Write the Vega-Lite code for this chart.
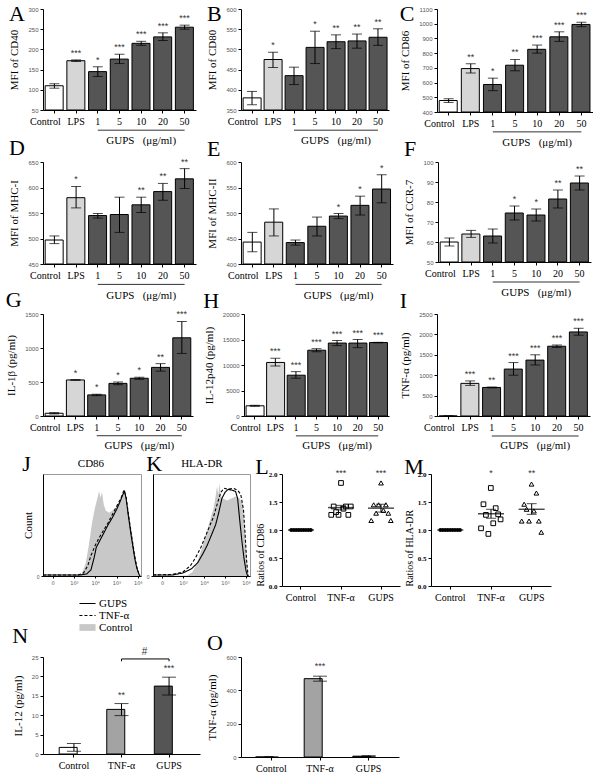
{
"$schema":"https://vega.github.io/schema/vega-lite/v6.json",
"padding":{"left":5,"top":3,"right":0,"bottom":0},
"background":"#ffffff",
"config":{
 "font":"Liberation Serif",
 "view":{"stroke":null},
 "title":{"anchor":"start","frame":"bounds","fontSize":22,"font":"Liberation Serif","fontWeight":"normal","offset":0,"color":"#000"},
 "axis":{"grid":false,"domainColor":"#000","domainWidth":1,"tickColor":"#000","tickSize":3,"labelFont":"Liberation Sans","labelFontSize":6,"labelColor":"#555","labelPadding":2,"labelOverlap":false,"labelFlush":false,"titleFont":"Liberation Serif","titleFontSize":11,"titleFontWeight":"normal","titleColor":"#000","titlePadding":8},
 "axisBand":{"labelFont":"Liberation Serif","labelFontSize":10,"labelColor":"#000","labelAngle":0,"labelPadding":3,"labelOverlap":false}
},
"datasets":{
 "A":[{"g":"Control","k":"c","v":110,"lo":104,"hi":115,"s":""},{"g":"LPS","k":"l","v":172,"lo":170,"hi":174,"s":"***"},{"g":"1","k":"g","v":145,"lo":133,"hi":157,"s":"*"},{"g":"5","k":"g","v":176,"lo":165,"hi":188,"s":"***"},{"g":"10","k":"g","v":215,"lo":210,"hi":220,"s":"***"},{"g":"20","k":"g","v":231,"lo":222,"hi":241,"s":"***"},{"g":"50","k":"g","v":255,"lo":250,"hi":260,"s":"***"}],
 "B":[{"g":"Control","k":"c","v":380,"lo":363,"hi":396,"s":""},{"g":"LPS","k":"l","v":475,"lo":455,"hi":493,"s":"*"},{"g":"1","k":"g","v":435,"lo":413,"hi":456,"s":""},{"g":"5","k":"g","v":505,"lo":465,"hi":545,"s":"*"},{"g":"10","k":"g","v":519,"lo":502,"hi":536,"s":"**"},{"g":"20","k":"g","v":521,"lo":503,"hi":538,"s":"**"},{"g":"50","k":"g","v":530,"lo":510,"hi":551,"s":"**"}],
 "C":[{"g":"Control","k":"c","v":478,"lo":465,"hi":490,"s":""},{"g":"LPS","k":"l","v":695,"lo":665,"hi":728,"s":"**"},{"g":"1","k":"g","v":587,"lo":545,"hi":630,"s":"*"},{"g":"5","k":"g","v":718,"lo":680,"hi":757,"s":"**"},{"g":"10","k":"g","v":826,"lo":800,"hi":855,"s":"***"},{"g":"20","k":"g","v":911,"lo":880,"hi":945,"s":"***"},{"g":"50","k":"g","v":995,"lo":980,"hi":1010,"s":"***"}],
 "D":[{"g":"Control","k":"c","v":497,"lo":490,"hi":505,"s":""},{"g":"LPS","k":"l","v":580,"lo":560,"hi":602,"s":"*"},{"g":"1","k":"g","v":545,"lo":540,"hi":549,"s":""},{"g":"5","k":"g","v":547,"lo":512,"hi":581,"s":""},{"g":"10","k":"g","v":566,"lo":551,"hi":581,"s":"**"},{"g":"20","k":"g","v":592,"lo":575,"hi":608,"s":"**"},{"g":"50","k":"g","v":617,"lo":598,"hi":637,"s":"**"}],
 "E":[{"g":"Control","k":"c","v":443,"lo":424,"hi":462,"s":""},{"g":"LPS","k":"l","v":482,"lo":455,"hi":508,"s":""},{"g":"1","k":"g","v":442,"lo":437,"hi":447,"s":""},{"g":"5","k":"g","v":474,"lo":455,"hi":492,"s":""},{"g":"10","k":"g","v":494,"lo":489,"hi":499,"s":"*"},{"g":"20","k":"g","v":515,"lo":496,"hi":533,"s":"*"},{"g":"50","k":"g","v":547,"lo":520,"hi":575,"s":"*"}],
 "F":[{"g":"Control","k":"c","v":60,"lo":58,"hi":62,"s":""},{"g":"LPS","k":"l","v":64,"lo":62.3,"hi":65.8,"s":""},{"g":"1","k":"g","v":63,"lo":59.5,"hi":66.5,"s":""},{"g":"5","k":"g","v":74.5,"lo":71,"hi":78,"s":"*"},{"g":"10","k":"g","v":73.5,"lo":70.5,"hi":76.5,"s":"*"},{"g":"20","k":"g","v":81.5,"lo":77,"hi":86,"s":"**"},{"g":"50","k":"g","v":89.5,"lo":86,"hi":93,"s":"**"}],
 "G":[{"g":"Control","k":"c","v":40,"lo":30,"hi":50,"s":""},{"g":"LPS","k":"l","v":530,"lo":525,"hi":535,"s":"*"},{"g":"1","k":"g","v":310,"lo":300,"hi":320,"s":"*"},{"g":"5","k":"g","v":480,"lo":460,"hi":500,"s":"*"},{"g":"10","k":"g","v":555,"lo":540,"hi":570,"s":"*"},{"g":"20","k":"g","v":715,"lo":660,"hi":770,"s":"**"},{"g":"50","k":"g","v":1150,"lo":920,"hi":1390,"s":"***"}],
 "H":[{"g":"Control","k":"c","v":2000,"lo":1900,"hi":2100,"s":""},{"g":"LPS","k":"l","v":10500,"lo":9800,"hi":11300,"s":"***"},{"g":"1","k":"g","v":8000,"lo":7400,"hi":8700,"s":"***"},{"g":"5","k":"g","v":12900,"lo":12600,"hi":13200,"s":"***"},{"g":"10","k":"g","v":14300,"lo":13800,"hi":14800,"s":"***"},{"g":"20","k":"g","v":14300,"lo":13400,"hi":15000,"s":"***"},{"g":"50","k":"g","v":14400,"lo":14350,"hi":14450,"s":"***"}],
 "I":[{"g":"Control","k":"c","v":0,"lo":0,"hi":0,"s":""},{"g":"LPS","k":"l","v":800,"lo":750,"hi":860,"s":"***"},{"g":"1","k":"g","v":700,"lo":690,"hi":710,"s":"**"},{"g":"5","k":"g","v":1150,"lo":1000,"hi":1310,"s":"***"},{"g":"10","k":"g","v":1370,"lo":1250,"hi":1500,"s":"***"},{"g":"20","k":"g","v":1710,"lo":1680,"hi":1740,"s":"***"},{"g":"50","k":"g","v":2060,"lo":1980,"hi":2150,"s":"***"}],
 "J":[
  {"s":"Control","p":-0.45,"c":0},{"s":"Control","p":1.0,"c":0.5},{"s":"Control","p":1.37,"c":2},{"s":"Control","p":1.55,"c":12},{"s":"Control","p":1.7,"c":30},{"s":"Control","p":1.85,"c":52},{"s":"Control","p":2.0,"c":68},{"s":"Control","p":2.1,"c":76},{"s":"Control","p":2.18,"c":83},{"s":"Control","p":2.25,"c":77},{"s":"Control","p":2.32,"c":82},{"s":"Control","p":2.4,"c":70},{"s":"Control","p":2.5,"c":64},{"s":"Control","p":2.65,"c":62},{"s":"Control","p":2.8,"c":64},{"s":"Control","p":3.0,"c":68},{"s":"Control","p":3.2,"c":76},{"s":"Control","p":3.35,"c":82},{"s":"Control","p":3.5,"c":72},{"s":"Control","p":3.65,"c":52},{"s":"Control","p":3.8,"c":32},{"s":"Control","p":3.92,"c":14},{"s":"Control","p":4.03,"c":4},{"s":"Control","p":4.12,"c":0},
  {"s":"GUPS","p":-0.45,"c":1},{"s":"GUPS","p":1.3,"c":1},{"s":"GUPS","p":1.6,"c":2},{"s":"GUPS","p":1.8,"c":6},{"s":"GUPS","p":1.95,"c":18},{"s":"GUPS","p":2.05,"c":28},{"s":"GUPS","p":2.2,"c":34},{"s":"GUPS","p":2.4,"c":42},{"s":"GUPS","p":2.6,"c":50},{"s":"GUPS","p":2.8,"c":57},{"s":"GUPS","p":3.0,"c":65},{"s":"GUPS","p":3.15,"c":72},{"s":"GUPS","p":3.3,"c":80},{"s":"GUPS","p":3.38,"c":83},{"s":"GUPS","p":3.45,"c":76},{"s":"GUPS","p":3.55,"c":60},{"s":"GUPS","p":3.7,"c":38},{"s":"GUPS","p":3.85,"c":18},{"s":"GUPS","p":3.95,"c":8},{"s":"GUPS","p":4.05,"c":2},{"s":"GUPS","p":4.1,"c":0},
  {"s":"TNF-α","p":-0.45,"c":1},{"s":"TNF-α","p":1.2,"c":1},{"s":"TNF-α","p":1.45,"c":3},{"s":"TNF-α","p":1.65,"c":10},{"s":"TNF-α","p":1.8,"c":20},{"s":"TNF-α","p":2.0,"c":30},{"s":"TNF-α","p":2.2,"c":38},{"s":"TNF-α","p":2.4,"c":45},{"s":"TNF-α","p":2.6,"c":52},{"s":"TNF-α","p":2.8,"c":60},{"s":"TNF-α","p":3.0,"c":68},{"s":"TNF-α","p":3.2,"c":76},{"s":"TNF-α","p":3.35,"c":84},{"s":"TNF-α","p":3.45,"c":78},{"s":"TNF-α","p":3.55,"c":62},{"s":"TNF-α","p":3.7,"c":40},{"s":"TNF-α","p":3.85,"c":20},{"s":"TNF-α","p":3.95,"c":9},{"s":"TNF-α","p":4.05,"c":2},{"s":"TNF-α","p":4.1,"c":0}],
 "K":[
  {"s":"Control","p":-0.43,"c":0},{"s":"Control","p":1.2,"c":0.5},{"s":"Control","p":1.45,"c":4},{"s":"Control","p":1.65,"c":12},{"s":"Control","p":1.85,"c":24},{"s":"Control","p":2.05,"c":38},{"s":"Control","p":2.25,"c":52},{"s":"Control","p":2.45,"c":66},{"s":"Control","p":2.55,"c":78},{"s":"Control","p":2.62,"c":88},{"s":"Control","p":2.68,"c":80},{"s":"Control","p":2.74,"c":91},{"s":"Control","p":2.8,"c":78},{"s":"Control","p":2.9,"c":76},{"s":"Control","p":3.1,"c":74},{"s":"Control","p":3.3,"c":76},{"s":"Control","p":3.5,"c":78},{"s":"Control","p":3.7,"c":76},{"s":"Control","p":3.85,"c":70},{"s":"Control","p":3.95,"c":45},{"s":"Control","p":4.05,"c":10},{"s":"Control","p":4.12,"c":0},
  {"s":"GUPS","p":-0.43,"c":1},{"s":"GUPS","p":0.5,"c":1},{"s":"GUPS","p":1.0,"c":3},{"s":"GUPS","p":1.4,"c":7},{"s":"GUPS","p":1.7,"c":13},{"s":"GUPS","p":1.95,"c":22},{"s":"GUPS","p":2.15,"c":30},{"s":"GUPS","p":2.35,"c":40},{"s":"GUPS","p":2.55,"c":50},{"s":"GUPS","p":2.7,"c":62},{"s":"GUPS","p":2.85,"c":76},{"s":"GUPS","p":3.0,"c":82},{"s":"GUPS","p":3.15,"c":85},{"s":"GUPS","p":3.35,"c":84},{"s":"GUPS","p":3.5,"c":83},{"s":"GUPS","p":3.6,"c":76},{"s":"GUPS","p":3.7,"c":55},{"s":"GUPS","p":3.8,"c":35},{"s":"GUPS","p":3.9,"c":18},{"s":"GUPS","p":4.0,"c":5},{"s":"GUPS","p":4.08,"c":0},
  {"s":"TNF-α","p":-0.43,"c":1},{"s":"TNF-α","p":0.5,"c":1.5},{"s":"TNF-α","p":1.0,"c":4},{"s":"TNF-α","p":1.35,"c":10},{"s":"TNF-α","p":1.6,"c":18},{"s":"TNF-α","p":1.85,"c":28},{"s":"TNF-α","p":2.05,"c":38},{"s":"TNF-α","p":2.25,"c":48},{"s":"TNF-α","p":2.45,"c":58},{"s":"TNF-α","p":2.65,"c":72},{"s":"TNF-α","p":2.8,"c":82},{"s":"TNF-α","p":2.95,"c":86},{"s":"TNF-α","p":3.15,"c":85},{"s":"TNF-α","p":3.4,"c":86},{"s":"TNF-α","p":3.6,"c":84},{"s":"TNF-α","p":3.75,"c":80},{"s":"TNF-α","p":3.88,"c":65},{"s":"TNF-α","p":3.96,"c":40},{"s":"TNF-α","p":4.03,"c":15},{"s":"TNF-α","p":4.1,"c":0}],
 "Lp":[
  {"g":"Control","r":1,"y":1},{"g":"Control","r":2,"y":1},{"g":"Control","r":3,"y":1},{"g":"Control","r":4,"y":1},{"g":"Control","r":5,"y":1},{"g":"Control","r":6,"y":1},{"g":"Control","r":7,"y":1},{"g":"Control","r":8,"y":1},{"g":"Control","r":9,"y":1},
  {"g":"TNF-α","r":1,"y":1.27},{"g":"TNF-α","r":2,"y":1.42},{"g":"TNF-α","r":3,"y":1.32},{"g":"TNF-α","r":4,"y":1.27},{"g":"TNF-α","r":5,"y":1.84},{"g":"TNF-α","r":6,"y":1.38},{"g":"TNF-α","r":7,"y":1.42},{"g":"TNF-α","r":8,"y":1.27},{"g":"TNF-α","r":9,"y":1.42},
  {"g":"GUPS","r":1,"y":1.17},{"g":"GUPS","r":2,"y":1.45},{"g":"GUPS","r":3,"y":1.3},{"g":"GUPS","r":4,"y":1.45},{"g":"GUPS","r":5,"y":1.84},{"g":"GUPS","r":6,"y":1.35},{"g":"GUPS","r":7,"y":1.45},{"g":"GUPS","r":8,"y":1.3},{"g":"GUPS","r":9,"y":1.17}],
 "Ls":[{"g":"Control","m":1.0,"lo":1.0,"hi":1.0,"s":""},{"g":"TNF-α","m":1.40,"lo":1.36,"hi":1.44,"s":"***"},{"g":"GUPS","m":1.39,"lo":1.32,"hi":1.46,"s":"***"}],
 "Mp":[
  {"g":"Control","r":1,"y":1},{"g":"Control","r":2,"y":1},{"g":"Control","r":3,"y":1},{"g":"Control","r":4,"y":1},{"g":"Control","r":5,"y":1},{"g":"Control","r":6,"y":1},{"g":"Control","r":7,"y":1},{"g":"Control","r":8,"y":1},{"g":"Control","r":9,"y":1},
  {"g":"TNF-α","r":1,"y":1.03},{"g":"TNF-α","r":2,"y":1.46},{"g":"TNF-α","r":3,"y":1.27},{"g":"TNF-α","r":4,"y":0.93},{"g":"TNF-α","r":5,"y":1.75},{"g":"TNF-α","r":6,"y":1.12},{"g":"TNF-α","r":7,"y":1.39},{"g":"TNF-α","r":8,"y":1.28},{"g":"TNF-α","r":9,"y":1.19},
  {"g":"GUPS","r":1,"y":1.16},{"g":"GUPS","r":2,"y":1.46},{"g":"GUPS","r":3,"y":1.37},{"g":"GUPS","r":4,"y":1.16},{"g":"GUPS","r":5,"y":1.82},{"g":"GUPS","r":6,"y":1.34},{"g":"GUPS","r":7,"y":1.66},{"g":"GUPS","r":8,"y":1.16},{"g":"GUPS","r":9,"y":0.96}],
 "Ms":[{"g":"Control","m":1.0,"lo":1.0,"hi":1.0,"s":""},{"g":"TNF-α","m":1.29,"lo":1.21,"hi":1.37,"s":"*"},{"g":"GUPS","m":1.37,"lo":1.28,"hi":1.47,"s":"**"}],
 "N":[{"g":"Control","k":"c","v":1.7,"lo":0.7,"hi":2.7,"s":""},{"g":"TNF-α","k":"t","v":11.5,"lo":9.9,"hi":13,"s":"**"},{"g":"GUPS","k":"g","v":17.5,"lo":15.2,"hi":19.8,"s":"***"}],
 "O":[{"g":"Control","k":"c","v":0,"lo":0,"hi":0,"s":""},{"g":"TNF-α","k":"t","v":470,"lo":455,"hi":485,"s":"***"},{"g":"GUPS","k":"g","v":5,"lo":3,"hi":8,"s":""}]
},
"concat":[
 {"concat":[
  {"hconcat":[
   {"title":{"text":"A","offset":-20},"width":153,"height":101,"data":{"name":"A"},
    "encoding":{"x":{"field":"g","type":"nominal","sort":null,"title":null,"scale":{"paddingInner":0.15,"paddingOuter":0.1},"axis":{"labelOffset":{"condition":{"test":"datum.value === 'Control'","value":-9},"value":0}}}},
    "layer":[
     {"mark":{"type":"bar","stroke":"#000","strokeWidth":1},"encoding":{"y":{"field":"v","type":"quantitative","scale":{"domain":[50,300],"nice":false},"axis":{"title":"MFI of CD40","values":[50,100,150,200,250,300],"tickCount":20,"format":"d","labelOverlap":false}},"y2":{"datum":50},"fill":{"field":"k","type":"nominal","scale":{"domain":["c","l","g","t"],"range":["#ffffff","#d6d6d6","#555555","#a3a3a3"]},"legend":null}}},
     {"mark":{"type":"rule","stroke":"#000"},"encoding":{"y":{"field":"lo","type":"quantitative"},"y2":{"field":"hi"}}},
     {"mark":{"type":"tick","color":"#000","size":10,"thickness":1},"encoding":{"y":{"field":"lo","type":"quantitative"}}},
     {"mark":{"type":"tick","color":"#000","size":10,"thickness":1},"encoding":{"y":{"field":"hi","type":"quantitative"}}},
     {"mark":{"type":"text","dy":-7,"fontSize":9,"font":"Liberation Sans","fill":"#333"},"encoding":{"y":{"field":"hi","type":"quantitative"},"text":{"field":"s"}}},
     {"data":{"values":[{}]},"mark":{"type":"rule","stroke":"#333"},"encoding":{"x":{"datum":"1"},"x2":{"datum":"50"},"y":{"datum":0}}},
     {"data":{"values":[{}]},"mark":{"type":"text","text":"GUPS\u00a0\u00a0\u00a0(μg/ml)","fontSize":11,"fill":"#000"},"encoding":{"x":{"datum":"10"},"y":{"datum":-27.5}}}
    ]},
   {"title":{"text":"B","offset":-20},"width":148,"height":101,"data":{"name":"B"},
    "encoding":{"x":{"field":"g","type":"nominal","sort":null,"title":null,"scale":{"paddingInner":0.15,"paddingOuter":0.1},"axis":{"labelOffset":{"condition":{"test":"datum.value === 'Control'","value":-9},"value":0}}}},
    "layer":[
     {"mark":{"type":"bar","stroke":"#000","strokeWidth":1},"encoding":{"y":{"field":"v","type":"quantitative","scale":{"domain":[350,600],"nice":false},"axis":{"title":"MFI of CD80","values":[350,400,450,500,550,600],"tickCount":20,"format":"d","labelOverlap":false}},"y2":{"datum":350},"fill":{"field":"k","type":"nominal","scale":{"domain":["c","l","g","t"],"range":["#ffffff","#d6d6d6","#555555","#a3a3a3"]},"legend":null}}},
     {"mark":{"type":"rule","stroke":"#000"},"encoding":{"y":{"field":"lo","type":"quantitative"},"y2":{"field":"hi"}}},
     {"mark":{"type":"tick","color":"#000","size":10,"thickness":1},"encoding":{"y":{"field":"lo","type":"quantitative"}}},
     {"mark":{"type":"tick","color":"#000","size":10,"thickness":1},"encoding":{"y":{"field":"hi","type":"quantitative"}}},
     {"mark":{"type":"text","dy":-7,"fontSize":9,"font":"Liberation Sans","fill":"#333"},"encoding":{"y":{"field":"hi","type":"quantitative"},"text":{"field":"s"}}},
     {"data":{"values":[{}]},"mark":{"type":"rule","stroke":"#333"},"encoding":{"x":{"datum":"1"},"x2":{"datum":"50"},"y":{"datum":300}}},
     {"data":{"values":[{}]},"mark":{"type":"text","text":"GUPS\u00a0\u00a0\u00a0(μg/ml)","fontSize":11,"fill":"#000"},"encoding":{"x":{"datum":"10"},"y":{"datum":272.5}}}
    ]},
   {"title":{"text":"C","offset":-20},"width":156,"height":103,"data":{"name":"C"},
    "encoding":{"x":{"field":"g","type":"nominal","sort":null,"title":null,"scale":{"paddingInner":0.15,"paddingOuter":0.1},"axis":{"labelOffset":{"condition":{"test":"datum.value === 'Control'","value":-9},"value":0}}}},
    "layer":[
     {"mark":{"type":"bar","stroke":"#000","strokeWidth":1},"encoding":{"y":{"field":"v","type":"quantitative","scale":{"domain":[400,1100],"nice":false},"axis":{"title":"MFI of CD86","values":[400,500,600,700,800,900,1000,1100],"tickCount":20,"format":"d","labelOverlap":false}},"y2":{"datum":400},"fill":{"field":"k","type":"nominal","scale":{"domain":["c","l","g","t"],"range":["#ffffff","#d6d6d6","#555555","#a3a3a3"]},"legend":null}}},
     {"mark":{"type":"rule","stroke":"#000"},"encoding":{"y":{"field":"lo","type":"quantitative"},"y2":{"field":"hi"}}},
     {"mark":{"type":"tick","color":"#000","size":10,"thickness":1},"encoding":{"y":{"field":"lo","type":"quantitative"}}},
     {"mark":{"type":"tick","color":"#000","size":10,"thickness":1},"encoding":{"y":{"field":"hi","type":"quantitative"}}},
     {"mark":{"type":"text","dy":-7,"fontSize":9,"font":"Liberation Sans","fill":"#333"},"encoding":{"y":{"field":"hi","type":"quantitative"},"text":{"field":"s"}}},
     {"data":{"values":[{}]},"mark":{"type":"rule","stroke":"#333"},"encoding":{"x":{"datum":"1"},"x2":{"datum":"50"},"y":{"datum":265}}},
     {"data":{"values":[{}]},"mark":{"type":"text","text":"GUPS\u00a0\u00a0\u00a0(μg/ml)","fontSize":11,"fill":"#000"},"encoding":{"x":{"datum":"10"},"y":{"datum":190}}}
    ]}
  ],"spacing":10},
  {"hconcat":[
   {"title":{"text":"D","offset":-2},"width":153,"height":102,"data":{"name":"D"},
    "encoding":{"x":{"field":"g","type":"nominal","sort":null,"title":null,"scale":{"paddingInner":0.15,"paddingOuter":0.1},"axis":{"labelOffset":{"condition":{"test":"datum.value === 'Control'","value":-9},"value":0}}}},
    "layer":[
     {"mark":{"type":"bar","stroke":"#000","strokeWidth":1},"encoding":{"y":{"field":"v","type":"quantitative","scale":{"domain":[450,650],"nice":false},"axis":{"title":"MFI of MHC-I","values":[450,500,550,600,650],"tickCount":20,"format":"d","labelOverlap":false}},"y2":{"datum":450},"fill":{"field":"k","type":"nominal","scale":{"domain":["c","l","g","t"],"range":["#ffffff","#d6d6d6","#555555","#a3a3a3"]},"legend":null}}},
     {"mark":{"type":"rule","stroke":"#000"},"encoding":{"y":{"field":"lo","type":"quantitative"},"y2":{"field":"hi"}}},
     {"mark":{"type":"tick","color":"#000","size":10,"thickness":1},"encoding":{"y":{"field":"lo","type":"quantitative"}}},
     {"mark":{"type":"tick","color":"#000","size":10,"thickness":1},"encoding":{"y":{"field":"hi","type":"quantitative"}}},
     {"mark":{"type":"text","dy":-7,"fontSize":9,"font":"Liberation Sans","fill":"#333"},"encoding":{"y":{"field":"hi","type":"quantitative"},"text":{"field":"s"}}},
     {"data":{"values":[{}]},"mark":{"type":"rule","stroke":"#333"},"encoding":{"x":{"datum":"1"},"x2":{"datum":"50"},"y":{"datum":410}}},
     {"data":{"values":[{}]},"mark":{"type":"text","text":"GUPS\u00a0\u00a0\u00a0(μg/ml)","fontSize":11,"fill":"#000"},"encoding":{"x":{"datum":"10"},"y":{"datum":388}}}
    ]},
   {"title":{"text":"E","offset":-2},"width":152,"height":102,"data":{"name":"E"},
    "encoding":{"x":{"field":"g","type":"nominal","sort":null,"title":null,"scale":{"paddingInner":0.15,"paddingOuter":0.1},"axis":{"labelOffset":{"condition":{"test":"datum.value === 'Control'","value":-9},"value":0}}}},
    "layer":[
     {"mark":{"type":"bar","stroke":"#000","strokeWidth":1},"encoding":{"y":{"field":"v","type":"quantitative","scale":{"domain":[400,600],"nice":false},"axis":{"title":"MFI of MHC-II","values":[400,450,500,550,600],"tickCount":20,"format":"d","labelOverlap":false}},"y2":{"datum":400},"fill":{"field":"k","type":"nominal","scale":{"domain":["c","l","g","t"],"range":["#ffffff","#d6d6d6","#555555","#a3a3a3"]},"legend":null}}},
     {"mark":{"type":"rule","stroke":"#000"},"encoding":{"y":{"field":"lo","type":"quantitative"},"y2":{"field":"hi"}}},
     {"mark":{"type":"tick","color":"#000","size":10,"thickness":1},"encoding":{"y":{"field":"lo","type":"quantitative"}}},
     {"mark":{"type":"tick","color":"#000","size":10,"thickness":1},"encoding":{"y":{"field":"hi","type":"quantitative"}}},
     {"mark":{"type":"text","dy":-7,"fontSize":9,"font":"Liberation Sans","fill":"#333"},"encoding":{"y":{"field":"hi","type":"quantitative"},"text":{"field":"s"}}},
     {"data":{"values":[{}]},"mark":{"type":"rule","stroke":"#333"},"encoding":{"x":{"datum":"1"},"x2":{"datum":"50"},"y":{"datum":360}}},
     {"data":{"values":[{}]},"mark":{"type":"text","text":"GUPS\u00a0\u00a0\u00a0(μg/ml)","fontSize":11,"fill":"#000"},"encoding":{"x":{"datum":"10"},"y":{"datum":338}}}
    ]},
   {"title":{"text":"F","offset":-2},"width":153,"height":100,"data":{"name":"F"},
    "encoding":{"x":{"field":"g","type":"nominal","sort":null,"title":null,"scale":{"paddingInner":0.15,"paddingOuter":0.1},"axis":{"labelOffset":{"condition":{"test":"datum.value === 'Control'","value":-9},"value":0}}}},
    "layer":[
     {"mark":{"type":"bar","stroke":"#000","strokeWidth":1},"encoding":{"y":{"field":"v","type":"quantitative","scale":{"domain":[50,100],"nice":false},"axis":{"title":"MFI of CCR-7","values":[50,60,70,80,90,100],"tickCount":20,"format":"d","labelOverlap":false}},"y2":{"datum":50},"fill":{"field":"k","type":"nominal","scale":{"domain":["c","l","g","t"],"range":["#ffffff","#d6d6d6","#555555","#a3a3a3"]},"legend":null}}},
     {"mark":{"type":"rule","stroke":"#000"},"encoding":{"y":{"field":"lo","type":"quantitative"},"y2":{"field":"hi"}}},
     {"mark":{"type":"tick","color":"#000","size":10,"thickness":1},"encoding":{"y":{"field":"lo","type":"quantitative"}}},
     {"mark":{"type":"tick","color":"#000","size":10,"thickness":1},"encoding":{"y":{"field":"hi","type":"quantitative"}}},
     {"mark":{"type":"text","dy":-7,"fontSize":9,"font":"Liberation Sans","fill":"#333"},"encoding":{"y":{"field":"hi","type":"quantitative"},"text":{"field":"s"}}},
     {"data":{"values":[{}]},"mark":{"type":"rule","stroke":"#333"},"encoding":{"x":{"datum":"1"},"x2":{"datum":"50"},"y":{"datum":40}}},
     {"data":{"values":[{}]},"mark":{"type":"text","text":"GUPS\u00a0\u00a0\u00a0(μg/ml)","fontSize":11,"fill":"#000"},"encoding":{"x":{"datum":"10"},"y":{"datum":34.5}}}
    ]}
  ],"spacing":10},
  {"hconcat":[
   {"title":{"text":"G","offset":-2},"width":150,"height":102,"data":{"name":"G"},
    "encoding":{"x":{"field":"g","type":"nominal","sort":null,"title":null,"scale":{"paddingInner":0.15,"paddingOuter":0.1},"axis":{"labelOffset":{"condition":{"test":"datum.value === 'Control'","value":-9},"value":0}}}},
    "layer":[
     {"mark":{"type":"bar","stroke":"#000","strokeWidth":1},"encoding":{"y":{"field":"v","type":"quantitative","scale":{"domain":[0,1500],"nice":false},"axis":{"title":"IL-1β (pg/ml)","values":[0,500,1000,1500],"tickCount":20,"format":"d","labelOverlap":false}},"y2":{"datum":0},"fill":{"field":"k","type":"nominal","scale":{"domain":["c","l","g","t"],"range":["#ffffff","#d6d6d6","#555555","#a3a3a3"]},"legend":null}}},
     {"mark":{"type":"rule","stroke":"#000"},"encoding":{"y":{"field":"lo","type":"quantitative"},"y2":{"field":"hi"}}},
     {"mark":{"type":"tick","color":"#000","size":10,"thickness":1},"encoding":{"y":{"field":"lo","type":"quantitative"}}},
     {"mark":{"type":"tick","color":"#000","size":10,"thickness":1},"encoding":{"y":{"field":"hi","type":"quantitative"}}},
     {"mark":{"type":"text","dy":-7,"fontSize":9,"font":"Liberation Sans","fill":"#333"},"encoding":{"y":{"field":"hi","type":"quantitative"},"text":{"field":"s"}}},
     {"data":{"values":[{}]},"mark":{"type":"rule","stroke":"#333"},"encoding":{"x":{"datum":"1"},"x2":{"datum":"50"},"y":{"datum":-290}}},
     {"data":{"values":[{}]},"mark":{"type":"text","text":"GUPS\u00a0\u00a0\u00a0(μg/ml)","fontSize":11,"fill":"#000"},"encoding":{"x":{"datum":"10"},"y":{"datum":-440}}}
    ]},
   {"title":{"text":"H","offset":-2},"width":145,"height":102,"data":{"name":"H"},
    "encoding":{"x":{"field":"g","type":"nominal","sort":null,"title":null,"scale":{"paddingInner":0.15,"paddingOuter":0.1},"axis":{"labelOffset":{"condition":{"test":"datum.value === 'Control'","value":-9},"value":0}}}},
    "layer":[
     {"mark":{"type":"bar","stroke":"#000","strokeWidth":1},"encoding":{"y":{"field":"v","type":"quantitative","scale":{"domain":[0,20000],"nice":false},"axis":{"title":"IL-12p40 (pg/ml)","values":[0,5000,10000,15000,20000],"tickCount":20,"format":"d","labelOverlap":false}},"y2":{"datum":0},"fill":{"field":"k","type":"nominal","scale":{"domain":["c","l","g","t"],"range":["#ffffff","#d6d6d6","#555555","#a3a3a3"]},"legend":null}}},
     {"mark":{"type":"rule","stroke":"#000"},"encoding":{"y":{"field":"lo","type":"quantitative"},"y2":{"field":"hi"}}},
     {"mark":{"type":"tick","color":"#000","size":10,"thickness":1},"encoding":{"y":{"field":"lo","type":"quantitative"}}},
     {"mark":{"type":"tick","color":"#000","size":10,"thickness":1},"encoding":{"y":{"field":"hi","type":"quantitative"}}},
     {"mark":{"type":"text","dy":-7,"fontSize":9,"font":"Liberation Sans","fill":"#333"},"encoding":{"y":{"field":"hi","type":"quantitative"},"text":{"field":"s"}}},
     {"data":{"values":[{}]},"mark":{"type":"rule","stroke":"#333"},"encoding":{"x":{"datum":"1"},"x2":{"datum":"50"},"y":{"datum":-3900}}},
     {"data":{"values":[{}]},"mark":{"type":"text","text":"GUPS\u00a0\u00a0\u00a0(μg/ml)","fontSize":11,"fill":"#000"},"encoding":{"x":{"datum":"10"},"y":{"datum":-5900}}}
    ]},
   {"title":{"text":"I","offset":-2},"width":153,"height":102,"data":{"name":"I"},
    "encoding":{"x":{"field":"g","type":"nominal","sort":null,"title":null,"scale":{"paddingInner":0.15,"paddingOuter":0.1},"axis":{"labelOffset":{"condition":{"test":"datum.value === 'Control'","value":-9},"value":0}}}},
    "layer":[
     {"mark":{"type":"bar","stroke":"#000","strokeWidth":1},"encoding":{"y":{"field":"v","type":"quantitative","scale":{"domain":[0,2500],"nice":false},"axis":{"title":"TNF-α (pg/ml)","values":[0,500,1000,1500,2000,2500],"tickCount":20,"format":"d","labelOverlap":false}},"y2":{"datum":0},"fill":{"field":"k","type":"nominal","scale":{"domain":["c","l","g","t"],"range":["#ffffff","#d6d6d6","#555555","#a3a3a3"]},"legend":null}}},
     {"mark":{"type":"rule","stroke":"#000"},"encoding":{"y":{"field":"lo","type":"quantitative"},"y2":{"field":"hi"}}},
     {"mark":{"type":"tick","color":"#000","size":10,"thickness":1},"encoding":{"y":{"field":"lo","type":"quantitative"}}},
     {"mark":{"type":"tick","color":"#000","size":10,"thickness":1},"encoding":{"y":{"field":"hi","type":"quantitative"}}},
     {"mark":{"type":"text","dy":-7,"fontSize":9,"font":"Liberation Sans","fill":"#333"},"encoding":{"y":{"field":"hi","type":"quantitative"},"text":{"field":"s"}}},
     {"data":{"values":[{}]},"mark":{"type":"rule","stroke":"#333"},"encoding":{"x":{"datum":"1"},"x2":{"datum":"50"},"y":{"datum":-490}}},
     {"data":{"values":[{}]},"mark":{"type":"text","text":"GUPS\u00a0\u00a0\u00a0(μg/ml)","fontSize":11,"fill":"#000"},"encoding":{"x":{"datum":"10"},"y":{"datum":-740}}}
    ]}
  ],"spacing":10}
 ],"columns":1,"align":"none","spacing":-12},
 {"concat":[
  {"hconcat":[
   {"hconcat":[
    {"title":{"text":"J","offset":-18},"width":98,"height":102,"view":{"stroke":"#999"},"data":{"name":"J"},
     "layer":[
      {"transform":[{"filter":"datum.s == 'Control'"}],"mark":{"type":"area","color":"#c8c8c8"},"encoding":{"x":{"field":"p","type":"quantitative","scale":{"domain":[-0.45,4.15],"nice":false,"zero":false},"axis":{"title":null,"values":[0,1,2,3,4],"tickCount":20,"labelExpr":"['0','10³','10⁴','10⁵','10⁶'][datum.value]","labelFont":"DejaVu Sans","labelFontSize":5,"tickSize":2,"labelOverlap":false}},"y":{"field":"c","type":"quantitative","scale":{"domain":[0,100],"nice":false},"axis":{"title":"Count","values":[0],"tickSize":2,"labelFontSize":5,"titlePadding":3,"labelOverlap":false}}}},
      {"transform":[{"filter":"datum.s != 'Control'"}],"mark":{"type":"line","stroke":"#000","strokeWidth":1.1},"encoding":{"x":{"field":"p","type":"quantitative"},"y":{"field":"c","type":"quantitative"},"detail":{"field":"s"},"strokeDash":{"field":"s","type":"nominal","scale":{"domain":["GUPS","TNF-α","Control"],"range":[[1,0],[3,2],[1,0]]},"legend":{"orient":"none","legendX":39,"legendY":589,"padding":0,"title":null,"direction":"vertical","symbolType":"stroke","symbolSize":260,"symbolStrokeWidth":1.2,"symbolStrokeColor":"#000","labelFont":"Liberation Serif","labelFontSize":11,"labelColor":"#000","labelOffset":6,"rowPadding":0,"encode":{"symbols":{"update":{"shape":{"signal":"datum.value === 'Control' ? 'M-1,-0.42H1V0.42H-1Z' : 'stroke'"},"fill":{"signal":"datum.value === 'Control' ? '#c8c8c8' : 'transparent'"},"strokeWidth":{"signal":"datum.value === 'Control' ? 0 : 1.2"},"stroke":{"value":"#000000"}}}}}}}},
      {"data":{"values":[{}]},"mark":{"type":"text","text":"CD86","fontSize":11,"baseline":"bottom","dy":-5,"fill":"#000"},"encoding":{"x":{"datum":1.8},"y":{"datum":100}}}
     ]},
    {"title":{"text":"K","offset":-18},"width":97,"height":102,"view":{"stroke":"#999"},"data":{"name":"K"},
     "layer":[
      {"transform":[{"filter":"datum.s == 'Control'"}],"mark":{"type":"area","color":"#c8c8c8"},"encoding":{"x":{"field":"p","type":"quantitative","scale":{"domain":[-0.43,4.19],"nice":false,"zero":false},"axis":{"title":null,"values":[0,1,2,3,4],"tickCount":20,"labelExpr":"['0','10³','10⁴','10⁵','10⁶'][datum.value]","labelFont":"DejaVu Sans","labelFontSize":5,"tickSize":2,"labelOverlap":false}},"y":{"field":"c","type":"quantitative","scale":{"domain":[0,100],"nice":false},"axis":{"title":null,"values":[0],"tickSize":2,"labelFontSize":5,"labelOverlap":false}}}},
      {"transform":[{"filter":"datum.s != 'Control'"}],"mark":{"type":"line","stroke":"#000","strokeWidth":1.1},"encoding":{"x":{"field":"p","type":"quantitative"},"y":{"field":"c","type":"quantitative"},"detail":{"field":"s"},"strokeDash":{"field":"s","type":"nominal","scale":{"domain":["GUPS","TNF-α","Control"],"range":[[1,0],[3,2],[1,0]]}}}},
      {"data":{"values":[{}]},"mark":{"type":"text","text":"HLA-DR","fontSize":11,"baseline":"bottom","dy":-5,"fill":"#000"},"encoding":{"x":{"datum":1.9},"y":{"datum":100}}}
     ]}
   ],"spacing":2},
   {"title":{"text":"L","offset":-10},"width":118,"height":112,
    "layer":[
     {"data":{"name":"Lp"},"transform":[{"filter":"datum.g == 'Control'"}],"mark":{"type":"point","shape":"circle","filled":true,"color":"#000","size":16,"opacity":1},"encoding":{"x":{"field":"g","type":"nominal","title":null,"scale":{"domain":["Control","TNF-α","GUPS"],"paddingInner":0.45,"paddingOuter":0.2}},"xOffset":{"field":"r","type":"nominal"},"y":{"field":"y","type":"quantitative","scale":{"domain":[0,2],"nice":false},"axis":{"title":"Ratios of CD86","titleFontSize":10,"titlePadding":3,"titleAnchor":"start","values":[0,0.5,1,1.5,2],"tickCount":20,"format":".1f","labelFont":"Liberation Serif","labelFontWeight":"bold","labelFontSize":7,"labelColor":"#000","labelOverlap":false}}}},
     {"data":{"name":"Lp"},"transform":[{"filter":"datum.g != 'Control'"}],"mark":{"type":"point","filled":false,"color":"#000","strokeWidth":1,"size":22,"opacity":1},"encoding":{"x":{"field":"g","type":"nominal"},"xOffset":{"field":"r","type":"nominal"},"y":{"field":"y","type":"quantitative"},"shape":{"field":"g","type":"nominal","scale":{"domain":["TNF-α","GUPS"],"range":["square","triangle-up"]},"legend":null}}},
     {"data":{"name":"Ls"},"mark":{"type":"tick","color":"#000","size":26,"thickness":1.5},"encoding":{"x":{"field":"g","type":"nominal"},"y":{"field":"m","type":"quantitative"}}},
     {"data":{"name":"Ls"},"mark":{"type":"rule","stroke":"#000"},"encoding":{"x":{"field":"g","type":"nominal"},"y":{"field":"lo","type":"quantitative"},"y2":{"field":"hi"}}},
     {"data":{"name":"Ls"},"mark":{"type":"tick","color":"#000","size":10,"thickness":1},"encoding":{"x":{"field":"g","type":"nominal"},"y":{"field":"lo","type":"quantitative"}}},
     {"data":{"name":"Ls"},"mark":{"type":"tick","color":"#000","size":10,"thickness":1},"encoding":{"x":{"field":"g","type":"nominal"},"y":{"field":"hi","type":"quantitative"}}},
     {"data":{"name":"Ls"},"mark":{"type":"text","fontSize":9,"font":"Liberation Sans","fill":"#333","dy":-1},"encoding":{"x":{"field":"g","type":"nominal"},"y":{"datum":2},"text":{"field":"s"}}}
    ]},
   {"title":{"text":"M","offset":-10},"width":120,"height":112,
    "layer":[
     {"data":{"name":"Mp"},"transform":[{"filter":"datum.g == 'Control'"}],"mark":{"type":"point","shape":"circle","filled":true,"color":"#000","size":16,"opacity":1},"encoding":{"x":{"field":"g","type":"nominal","title":null,"scale":{"domain":["Control","TNF-α","GUPS"],"paddingInner":0.45,"paddingOuter":0.2}},"xOffset":{"field":"r","type":"nominal"},"y":{"field":"y","type":"quantitative","scale":{"domain":[0,2],"nice":false},"axis":{"title":"Ratios of HLA-DR","titleFontSize":10,"titlePadding":3,"titleAnchor":"start","values":[0,0.5,1,1.5,2],"tickCount":20,"format":".1f","labelFont":"Liberation Serif","labelFontWeight":"bold","labelFontSize":7,"labelColor":"#000","labelOverlap":false}}}},
     {"data":{"name":"Mp"},"transform":[{"filter":"datum.g != 'Control'"}],"mark":{"type":"point","filled":false,"color":"#000","strokeWidth":1,"size":22,"opacity":1},"encoding":{"x":{"field":"g","type":"nominal"},"xOffset":{"field":"r","type":"nominal"},"y":{"field":"y","type":"quantitative"},"shape":{"field":"g","type":"nominal","scale":{"domain":["TNF-α","GUPS"],"range":["square","triangle-up"]},"legend":null}}},
     {"data":{"name":"Ms"},"mark":{"type":"tick","color":"#000","size":26,"thickness":1.5},"encoding":{"x":{"field":"g","type":"nominal"},"y":{"field":"m","type":"quantitative"}}},
     {"data":{"name":"Ms"},"mark":{"type":"rule","stroke":"#000"},"encoding":{"x":{"field":"g","type":"nominal"},"y":{"field":"lo","type":"quantitative"},"y2":{"field":"hi"}}},
     {"data":{"name":"Ms"},"mark":{"type":"tick","color":"#000","size":10,"thickness":1},"encoding":{"x":{"field":"g","type":"nominal"},"y":{"field":"lo","type":"quantitative"}}},
     {"data":{"name":"Ms"},"mark":{"type":"tick","color":"#000","size":10,"thickness":1},"encoding":{"x":{"field":"g","type":"nominal"},"y":{"field":"hi","type":"quantitative"}}},
     {"data":{"name":"Ms"},"mark":{"type":"text","fontSize":9,"font":"Liberation Sans","fill":"#333","dy":-1},"encoding":{"x":{"field":"g","type":"nominal"},"y":{"datum":2},"text":{"field":"s"}}}
    ]}
  ],"spacing":4},
  {"hconcat":[
   {"title":{"text":"N","offset":-1},"width":157,"height":97,"data":{"name":"N"},
    "encoding":{"x":{"field":"g","type":"nominal","sort":null,"title":null,"scale":{"paddingInner":0.38,"paddingOuter":0.34}}},
    "layer":[
     {"mark":{"type":"bar","stroke":"#000","strokeWidth":1},"encoding":{"y":{"field":"v","type":"quantitative","scale":{"domain":[0,25],"nice":false},"axis":{"title":"IL-12 (pg/ml)","values":[0,5,10,15,20,25],"tickCount":20,"labelOverlap":false}},"y2":{"datum":0},"fill":{"field":"k","type":"nominal","scale":{"domain":["c","l","g","t"],"range":["#ffffff","#d6d6d6","#555555","#a3a3a3"]},"legend":null}}},
     {"mark":{"type":"rule","stroke":"#000"},"encoding":{"y":{"field":"lo","type":"quantitative"},"y2":{"field":"hi"}}},
     {"mark":{"type":"tick","color":"#000","size":14,"thickness":1},"encoding":{"y":{"field":"lo","type":"quantitative"}}},
     {"mark":{"type":"tick","color":"#000","size":14,"thickness":1},"encoding":{"y":{"field":"hi","type":"quantitative"}}},
     {"mark":{"type":"text","dy":-9,"fontSize":9,"font":"Liberation Sans","fill":"#333"},"encoding":{"y":{"field":"hi","type":"quantitative"},"text":{"field":"s"}}},
     {"data":{"values":[{}]},"mark":{"type":"rule","stroke":"#000"},"encoding":{"x":{"datum":"TNF-α"},"x2":{"datum":"GUPS"},"y":{"datum":24.5}}},
     {"data":{"values":[{}]},"mark":{"type":"rule","stroke":"#000"},"encoding":{"x":{"datum":"TNF-α"},"y":{"datum":24.5},"y2":{"datum":23.9}}},
     {"data":{"values":[{}]},"mark":{"type":"rule","stroke":"#000"},"encoding":{"x":{"datum":"GUPS"},"y":{"datum":24.5},"y2":{"datum":23.9}}},
     {"data":{"values":[{}]},"mark":{"type":"text","text":"#","fontSize":10,"font":"Liberation Sans","fill":"#333","dx":23,"dy":-7},"encoding":{"x":{"datum":"TNF-α"},"y":{"datum":24.5}}}
    ]},
   {"title":{"text":"O","offset":-1},"width":158,"height":100,"data":{"name":"O"},
    "encoding":{"x":{"field":"g","type":"nominal","sort":null,"title":null,"scale":{"paddingInner":0.35,"paddingOuter":0.3}}},
    "layer":[
     {"mark":{"type":"bar","stroke":"#000","strokeWidth":1},"encoding":{"y":{"field":"v","type":"quantitative","scale":{"domain":[0,600],"nice":false},"axis":{"title":"TNF-α (pg/ml)","values":[0,200,400,600],"tickCount":20,"labelOverlap":false}},"y2":{"datum":0},"fill":{"field":"k","type":"nominal","scale":{"domain":["c","l","g","t"],"range":["#ffffff","#d6d6d6","#555555","#a3a3a3"]},"legend":null}}},
     {"mark":{"type":"rule","stroke":"#000"},"encoding":{"y":{"field":"lo","type":"quantitative"},"y2":{"field":"hi"}}},
     {"mark":{"type":"tick","color":"#000","size":14,"thickness":1},"encoding":{"y":{"field":"lo","type":"quantitative"}}},
     {"mark":{"type":"tick","color":"#000","size":14,"thickness":1},"encoding":{"y":{"field":"hi","type":"quantitative"}}},
     {"mark":{"type":"text","dy":-10,"fontSize":9,"font":"Liberation Sans","fill":"#333"},"encoding":{"y":{"field":"hi","type":"quantitative"},"text":{"field":"s"}}}
    ]}
  ],"spacing":6}
 ],"columns":1,"align":"none","spacing":22}
],
"columns":1,"align":"none","spacing":0
}
